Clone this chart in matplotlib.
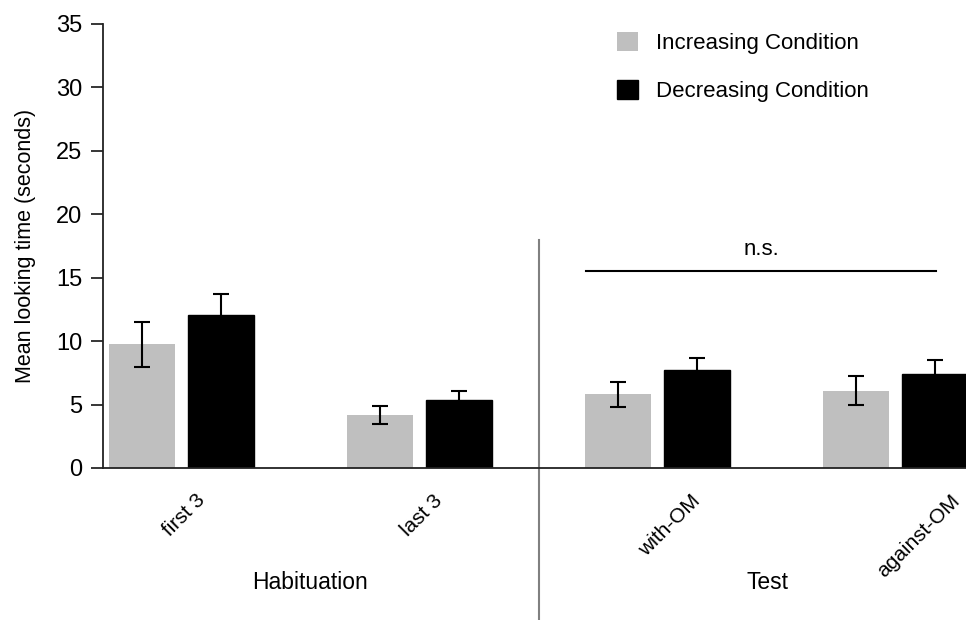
import matplotlib
matplotlib.use("Agg")
import matplotlib.pyplot as plt
import matplotlib.transforms as mtransforms
from matplotlib.lines import Line2D
import numpy as np

plt.rcParams['font.family'] = ['Liberation Sans', 'DejaVu Sans']

categories = ["first 3", "last 3", "with-OM", "against-OM"]
increasing = [9.75, 4.2, 5.8, 6.1]
increasing_err = [1.75, 0.7, 1.0, 1.15]
decreasing = [12.05, 5.35, 7.7, 7.4]
decreasing_err = [1.7, 0.7, 1.0, 1.15]
series_labels = ["Increasing Condition", "Decreasing Condition"]
group_labels = ["Habituation", "Test"]
ns_level = 15.5
ns_text = "n.s."
yticks = [0, 5, 10, 15, 20, 25, 30, 35]

W, H = 966, 620
fig = plt.figure(figsize=(W / 100, H / 100), dpi=100)
ax = fig.add_axes([103 / W, 152 / H, 4.0 * 238 / W, 444 / H])

x = np.arange(len(categories))
bw = 0.277
off = 0.167
ax.bar(x - off, increasing, bw, color="#BFBFBF", edgecolor="none",
       yerr=increasing_err, error_kw=dict(ecolor="black", elinewidth=1.5, capsize=5.5, capthick=1.5),
       label=series_labels[0])
ax.bar(x + off, decreasing, bw, color="black", edgecolor="black",
       yerr=decreasing_err, error_kw=dict(ecolor="black", elinewidth=1.5, capsize=5.5, capthick=1.5),
       label=series_labels[1])

ax.set_xlim(-0.33, 3.67)
ax.set_ylim(0, 35)
ax.set_yticks(yticks)
ax.tick_params(axis="y", direction="out", length=9, width=1.1, labelsize=17, pad=6)
ax.set_ylabel("Mean looking time (seconds)", fontsize=15.5, labelpad=14)

ax.set_xticks(x)
ax.set_xticklabels(categories, rotation=45, ha="left", va="top", fontsize=15, rotation_mode="default")
ax.tick_params(axis="x", length=0, pad=16.5)
shift = mtransforms.ScaledTranslation(-22 / 100, 0, fig.dpi_scale_trans)
for lab in ax.get_xticklabels():
    lab.set_transform(lab.get_transform() + shift)

for s in ["top", "right"]:
    ax.spines[s].set_visible(False)
for s in ["left", "bottom"]:
    ax.spines[s].set_linewidth(1.3)
    ax.spines[s].set_color("#222222")

# separator line between Habituation and Test
trans = mtransforms.blended_transform_factory(ax.transData, ax.transAxes)
ax.add_line(Line2D([1.5, 1.5], [0.5135, -0.35], transform=trans, color="#808080",
                   lw=1.5, clip_on=False))

# n.s. bracket
ax.plot([1.7, 3.17], [ns_level, ns_level], color="black", lw=1.5)
ax.text((1.7 + 3.17) / 2, ns_level + 0.9, ns_text, ha="center", va="bottom", fontsize=16)

# group labels
ax.text(0.54, -0.259, group_labels[0], transform=trans, ha="center", va="center", fontsize=16.5)
ax.text(2.46, -0.259, group_labels[1], transform=trans, ha="center", va="center", fontsize=16.5)

leg = ax.legend(loc="upper left", bbox_to_anchor=(617 / W, 1 - 32 / H), bbox_transform=fig.transFigure,
                frameon=False, fontsize=16, handlelength=0.95, handleheight=0.95,
                handletextpad=0.8, labelspacing=1.15, borderpad=0, borderaxespad=0)

fig.savefig("out.png", dpi=100)
